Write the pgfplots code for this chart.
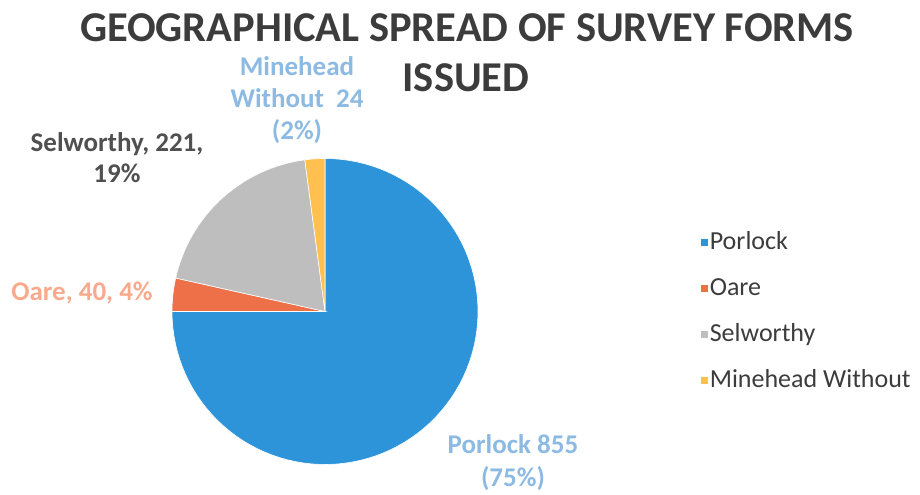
\documentclass[border=0pt]{standalone}
\usepackage{pgfplots}
\pgfplotsset{compat=1.18}
\usepackage{fontspec}
\setmainfont{Carlito}
\definecolor{cPor}{RGB}{46,148,218}
\definecolor{cOar}{RGB}{238,112,72}
\definecolor{cSel}{RGB}{190,190,190}
\definecolor{cMin}{RGB}{255,192,80}
\definecolor{lblue}{RGB}{140,186,226}
\definecolor{lsalmon}{RGB}{249,170,140}
\definecolor{dgray}{RGB}{80,80,80}
\definecolor{tgray}{RGB}{60,60,60}
\begin{document}
\begin{tikzpicture}
% values
\def\vPor{855}\def\vOar{40}\def\vSel{221}\def\vMin{24}
\pgfmathsetmacro{\tot}{\vPor+\vOar+\vSel+\vMin}
\pgfmathsetmacro{\aA}{90}
\pgfmathsetmacro{\aB}{\aA-360*(\vPor/\tot)}
\pgfmathsetmacro{\aC}{\aB-360*(\vOar/\tot)}
\pgfmathsetmacro{\aD}{\aC-360*(\vSel/\tot)}
\pgfmathsetmacro{\aE}{\aD-360*(\vMin/\tot)}
\begin{axis}[width=920pt,height=493pt,scale only axis,
  xmin=0,xmax=920,ymin=0,ymax=493,hide axis,clip=false,
  legend cell align=left,
  legend image code/.code={\fill[#1] (0pt,-4pt) rectangle (8pt,4pt);},
  legend style={at={(axis cs:700,264)},anchor=north west,draw=none,fill=none,inner sep=0pt,
    font=\fontsize{26}{30}\selectfont,text=tgray,row sep=19pt,
    nodes={text height=19pt,text depth=6pt,inner sep=1pt}}]
\path (axis cs:0,0) rectangle (axis cs:920,493);
\addplot[fill=cPor,draw=white,line width=0.6pt,domain=\aB:\aA,samples=90]
  ({325+153*cos(x)},{181.5+153*sin(x)}) -- (axis cs:325,181.5) -- cycle;
\addlegendentry{Porlock}
\addplot[fill=cOar,draw=white,line width=0.6pt,domain=\aC:\aB,samples=10]
  ({325+153*cos(x)},{181.5+153*sin(x)}) -- (axis cs:325,181.5) -- cycle;
\addlegendentry{Oare}
\addplot[fill=cSel,draw=white,line width=0.6pt,domain=\aD:\aC,samples=40]
  ({325+153*cos(x)},{181.5+153*sin(x)}) -- (axis cs:325,181.5) -- cycle;
\addlegendentry{Selworthy}
\addplot[fill=cMin,draw=white,line width=0.6pt,domain=\aE:\aD,samples=8]
  ({325+153*cos(x)},{181.5+153*sin(x)}) -- (axis cs:325,181.5) -- cycle;
\addlegendentry{Minehead Without}
% title
\node[font=\bfseries\fontsize{42.5}{50}\selectfont,text=tgray] at (axis cs:467,493-28) {GEOGRAPHICAL SPREAD OF SURVEY FORMS};
\node[font=\bfseries\fontsize{42.5}{50}\selectfont,text=tgray] at (axis cs:466,493-78) {ISSUED};
% data labels
\node[font=\bfseries\fontsize{27}{32}\selectfont,text=lblue,align=center] at (axis cs:297,493-100) {Minehead\\Without\ \ 24\\(2\%)};
\node[font=\bfseries\fontsize{27}{31}\selectfont,text=dgray,align=center] at (axis cs:117,493-158) {Selworthy, 221,\\19\%};
\node[font=\bfseries\fontsize{27}{31}\selectfont,text=lsalmon,align=center] at (axis cs:82,493-293) {Oare, 40, 4\%};
\node[font=\bfseries\fontsize{27}{33}\selectfont,text=lblue,align=center] at (axis cs:513,493-463) {Porlock 855\\(75\%)};
\end{axis}
\end{tikzpicture}
\end{document}
